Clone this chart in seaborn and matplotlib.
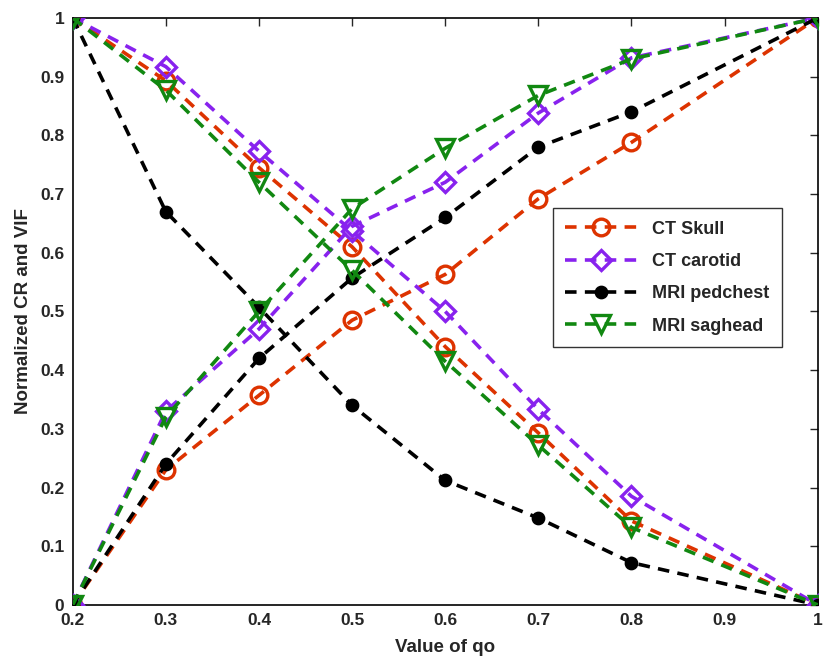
import numpy as np
import pandas as pd
import seaborn as sns
import matplotlib.pyplot as plt
from matplotlib.ticker import FuncFormatter

qo = [0.2, 0.3, 0.4, 0.5, 0.6, 0.7, 0.8, 1.0]
names = ['CT Skull', 'CT carotid', 'MRI pedchest', 'MRI saghead']

# normalized CR (rising curves)
cr_skull = [0, 0.230, 0.357, 0.485, 0.563, 0.692, 0.788, 1]
cr_carotid = [0, 0.330, 0.470, 0.645, 0.720, 0.838, 0.932, 1]
cr_pedchest = [0, 0.240, 0.420, 0.557, 0.660, 0.780, 0.840, 1]
cr_saghead = [0, 0.320, 0.500, 0.675, 0.778, 0.868, 0.930, 1]

# normalized VIF (falling curves)
vif_skull = [1, 0.893, 0.745, 0.610, 0.440, 0.293, 0.143, 0]
vif_carotid = [1, 0.917, 0.773, 0.637, 0.500, 0.333, 0.185, 0]
vif_pedchest = [1, 0.670, 0.507, 0.340, 0.212, 0.148, 0.072, 0]
vif_saghead = [1, 0.877, 0.720, 0.570, 0.415, 0.272, 0.132, 0]

cr = [cr_skull, cr_carotid, cr_pedchest, cr_saghead]
vif = [vif_skull, vif_carotid, vif_pedchest, vif_saghead]

colors = ['#dd3300', '#8822ee', '#000000', '#118811']
markers = ['o', 'D', 'o', 'v']
msizes = [12, 10, 7.5, 13]
filled = [False, False, True, False]

sns.set_style('white')
plt.rcParams['font.family'] = ['Liberation Sans', 'DejaVu Sans']
plt.rcParams['font.weight'] = 'bold'

fig = plt.figure(figsize=(8.26, 6.64), dpi=100)
ax = fig.add_axes([0.088, 0.089, 0.902, 0.884])

rows = []
for i, n in enumerate(names):
    for x, a, b in zip(qo, cr[i], vif[i]):
        rows.append({'qo': x, 'series': n, 'metric': 'CR', 'value': a})
        rows.append({'qo': x, 'series': n, 'metric': 'VIF', 'value': b})
df = pd.DataFrame(rows)

for i, n in enumerate(names):
    for j, m in enumerate(['CR', 'VIF']):
        sub = df[(df.series == n) & (df.metric == m)]
        sns.lineplot(data=sub, x='qo', y='value', ax=ax, color=colors[i],
                     marker=markers[i], markersize=msizes[i], linewidth=2.6,
                     markeredgewidth=2.4, dashes=False, linestyle=(0, (3.2, 2.3)),
                     markerfacecolor=colors[i] if filled[i] else 'none',
                     markeredgecolor=colors[i], label=n if j == 0 else None,
                     zorder=3 + i)

ax.set_xlim(0.2, 1.0)
ax.set_ylim(0, 1.0)
ax.set_xticks([0.2, 0.3, 0.4, 0.5, 0.6, 0.7, 0.8, 0.9, 1.0])
ax.set_yticks(np.arange(0, 1.01, 0.1))
fmt = FuncFormatter(lambda v, p: '%g' % round(v, 2))
ax.xaxis.set_major_formatter(fmt)
ax.yaxis.set_major_formatter(fmt)
ax.tick_params(direction='in', length=6, width=1, top=True, right=True,
               labelsize=12.5, pad=6)
for lab in ax.get_xticklabels() + ax.get_yticklabels():
    lab.set_fontweight('bold')
for s in ax.spines.values():
    s.set_linewidth(1.2)
    s.set_color('black')

ax.set_xlabel('Value of qo', fontsize=13.5, fontweight='bold', labelpad=8)
ax.set_ylabel('Normalized CR and VIF', fontsize=13.5, fontweight='bold', labelpad=6)

leg = ax.legend(loc='upper left', bbox_to_anchor=(0.644, 0.676), frameon=True,
                fancybox=False, edgecolor='black', fontsize=13, borderaxespad=0,
                handlelength=4.0, borderpad=0.7, labelspacing=0.85)
leg.get_frame().set_linewidth(1.0)
for t in leg.get_texts():
    t.set_fontweight('bold')

fig.savefig('out.png', dpi=100)
